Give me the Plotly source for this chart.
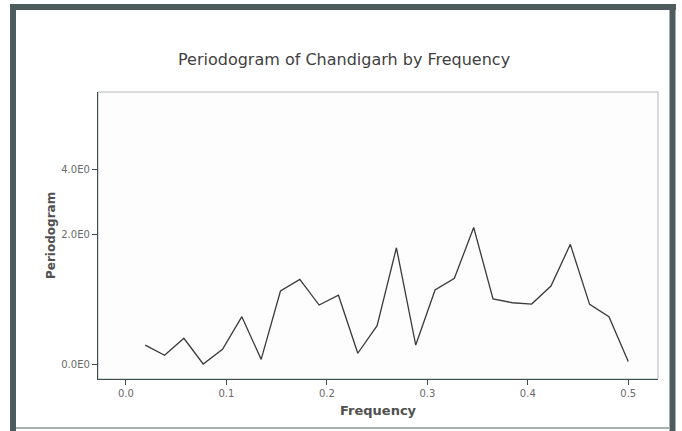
import plotly.graph_objects as go

# Data
frequency = [k / 52 for k in range(1, 27)]
periodogram = [1.98, 1.38, 2.52, 1.01, 1.70, 5.42, 1.19, 13.5, 20.4, 8.2,
               11.6, 1.48, 3.94, 62.7, 1.98, 14.0, 21.2, 129.0, 10.2, 8.9,
               8.5, 16.1, 70.8, 8.4, 5.42, 1.10]
y_tick_vals = [1, 100, 1000]
y_tick_text = ["0.0E0", "2.0E0", "4.0E0"]
x_tick_vals = [0.0, 0.1, 0.2, 0.3, 0.4, 0.5]
x_tick_text = ["0.0", "0.1", "0.2", "0.3", "0.4", "0.5"]

title_text = "Periodogram of Chandigarh by Frequency"
x_title = "Frequency"
y_title = "Periodogram"

axis_col = "#3c4f50"
frame_col = "#b4b8b8"
border_col = "#4d5b5d"

fig = go.Figure()
fig.add_trace(go.Scatter(
    x=frequency, y=periodogram, mode="lines",
    line=dict(color="#3a3a3a", width=1.3),
    showlegend=False, hoverinfo="x+y"))

W, H = 682, 431
L, R, T, B = 98, 24, 92, 52
pw, ph = W - L - R, H - T - B

def px(xp):
    return (xp - L) / pw

def py(yp):
    return (H - B - yp) / ph

shapes = [
    # light plot frame
    dict(type="rect", xref="paper", yref="paper", x0=0, x1=1, y0=0, y1=1,
         line=dict(color=frame_col, width=1), layer="below"),
    # outer dark border (left, top, right)
    dict(type="line", xref="paper", yref="paper", x0=px(13), x1=px(13),
         y0=py(4), y1=py(431), line=dict(color=border_col, width=6)),
    dict(type="line", xref="paper", yref="paper", x0=px(10), x1=px(676),
         y0=py(7), y1=py(7), line=dict(color=border_col, width=6)),
    dict(type="line", xref="paper", yref="paper", x0=px(672.5), x1=px(672.5),
         y0=py(4), y1=py(431), line=dict(color=border_col, width=6)),
    dict(type="line", xref="paper", yref="paper", x0=px(16), x1=px(670),
         y0=py(428), y1=py(428), line=dict(color="#a8b0b0", width=2)),
]

annotations = [
    dict(text=title_text, xref="paper", yref="paper", x=px(344), y=py(59),
         xanchor="center", yanchor="middle", showarrow=False,
         font=dict(family="DejaVu Sans", size=16, color="#3f3f3f")),
    dict(text="<b>" + x_title + "</b>", xref="paper", yref="paper",
         x=px(378), y=py(410), xanchor="center", yanchor="middle",
         showarrow=False,
         font=dict(family="DejaVu Sans", size=13, color="#505050")),
    dict(text="<b>" + y_title + "</b>", xref="paper", yref="paper",
         x=px(51), y=py(236), xanchor="center", yanchor="middle",
         showarrow=False, textangle=-90,
         font=dict(family="DejaVu Sans", size=12, color="#505050")),
]

fig.update_layout(
    width=W, height=H,
    margin=dict(l=L, r=R, t=T, b=B, autoexpand=False),
    paper_bgcolor="white", plot_bgcolor="#fdfdfd",
    shapes=shapes, annotations=annotations,
    xaxis=dict(range=[-0.0278, 0.5296], tickvals=x_tick_vals,
               ticktext=x_tick_text, showgrid=False, zeroline=False,
               showline=True, linecolor=axis_col, linewidth=1.3,
               ticks="outside", ticklen=5, tickcolor=axis_col,
               tickfont=dict(family="DejaVu Sans", size=10, color="#6a6a6a"),
               fixedrange=True),
    yaxis=dict(type="log", range=[-0.227, 4.20], tickvals=y_tick_vals,
               ticktext=y_tick_text, showgrid=False, zeroline=False,
               showline=True, linecolor=axis_col, linewidth=1.3,
               ticks="outside", ticklen=5, tickcolor=axis_col,
               tickfont=dict(family="DejaVu Sans", size=10, color="#6a6a6a"),
               fixedrange=True),
)

fig.write_html("out.html", config=dict(displayModeBar=False))
